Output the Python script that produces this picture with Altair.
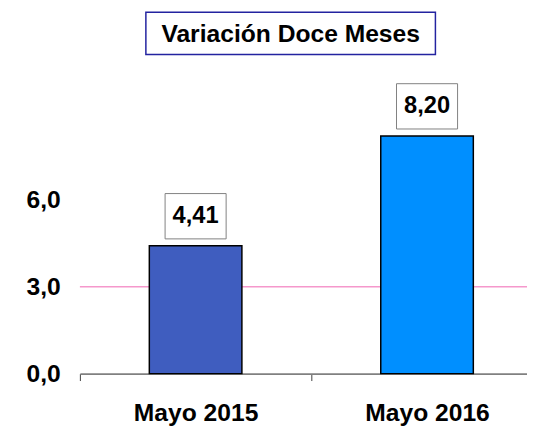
import altair as alt
import pandas as pd

categories = ["Mayo 2015", "Mayo 2016"]
values = [4.41, 8.20]
bar_colors = ["#3F5DBF", "#008FFF"]
y_ticks = [0, 3, 6]
reference_level = [3.0]
title_text = ["Variación Doce Meses"]

FONT = "Liberation Sans"

df = pd.DataFrame({"periodo": categories, "valor": values})
ref_df = pd.DataFrame({"nivel": reference_level})
title_df = pd.DataFrame({"t": title_text})

y_scale = alt.Scale(domain=[0, 12.5], nice=False, zero=True)
y_axis = alt.Axis(
    title=None, values=y_ticks, grid=False, domain=False, ticks=False,
    labelExpr="replace(format(datum.value, '.1f'), '.', ',')",
    labelFont=FONT, labelFontSize=25, labelFontWeight="bold", labelColor="black",
    labelPadding=20,
)
x_enc = alt.X(
    "periodo:N", sort=categories,
    scale=alt.Scale(range=[0, 470], paddingInner=0, paddingOuter=0),
    axis=alt.Axis(
        title=None, labelAngle=0, grid=False,
        labelFont=FONT, labelFontSize=25, labelFontWeight="bold", labelColor="black",
        labelPadding=21, domainColor="#808080", domainWidth=2,
        tickBand="extent", tickSize=7, tickColor="#404040", tickWidth=1,
    ),
)

rule = alt.Chart(ref_df).mark_rule(color="#F598CC", strokeWidth=1.5).encode(
    y=alt.Y("nivel:Q", scale=y_scale, axis=y_axis)
)

bars = alt.Chart(df).mark_bar(size=94, stroke="black", strokeWidth=1.5).encode(
    x=x_enc,
    y=alt.Y("valor:Q", scale=y_scale, axis=y_axis),
    color=alt.Color("periodo:N", scale=alt.Scale(domain=categories, range=bar_colors), legend=None),
)

label_df_chart = alt.Chart(df).transform_calculate(
    etiqueta="replace(format(datum.valor, '.2f'), '.', ',')"
)

boxes = label_df_chart.mark_bar(
    size=62, fill="white", stroke="#808080", strokeWidth=1, yOffset=-53, y2Offset=-7
).encode(
    x=x_enc,
    y=alt.Y("valor:Q", scale=y_scale, axis=y_axis),
    y2="valor:Q",
)

labels = label_df_chart.mark_text(
    font=FONT, fontSize=24, fontWeight="bold", color="black", baseline="middle", dy=-30
).encode(
    x=x_enc,
    y=alt.Y("valor:Q", scale=y_scale, axis=y_axis),
    text="etiqueta:N",
)

title_box = alt.Chart(title_df).mark_rect(
    fill="white", stroke="#2323A0", strokeWidth=1.5
).encode(
    x=alt.value(67), x2=alt.value(361), y=alt.value(1), y2=alt.value(44)
)

title = alt.Chart(title_df).mark_text(
    font=FONT, fontSize=25, fontWeight="bold", color="black", baseline="middle"
).encode(
    x=alt.value(214), y=alt.value(23), text="t:N"
)

chart = alt.layer(rule, bars, boxes, labels, title_box, title).properties(
    width=454, height=368,
    autosize=alt.AutoSizeParams(type="none"),
    padding={"left": 73, "top": 0, "right": 0, "bottom": 56},
).configure_view(stroke=None)

chart.save("out.html", embed_options={"renderer": "svg", "actions": False})
